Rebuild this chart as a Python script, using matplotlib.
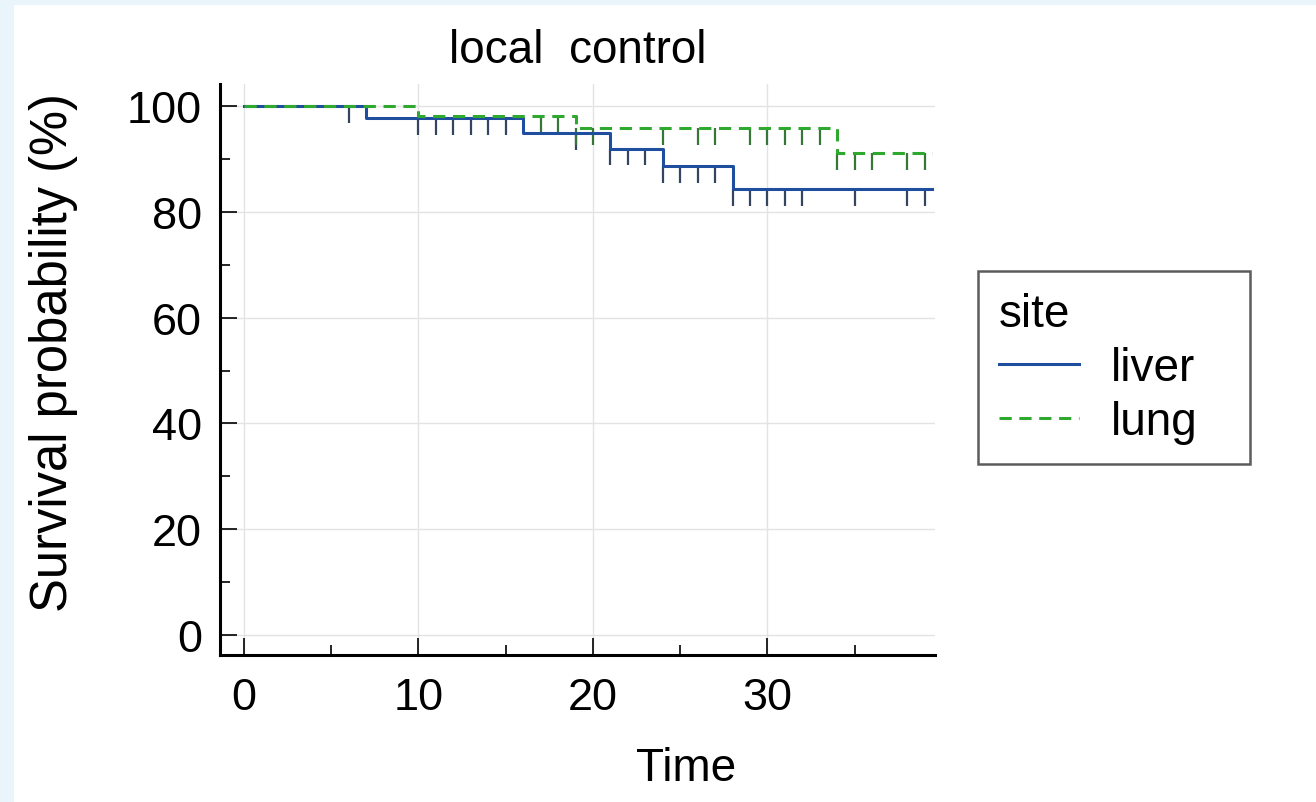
import numpy as np
import matplotlib
matplotlib.use("Agg")
import matplotlib.pyplot as plt
from matplotlib.patches import Rectangle
from matplotlib.ticker import MultipleLocator

# ---- data ----
liver_times = [0, 7, 16, 21, 24, 28]
liver_surv = [100, 97.7, 95.0, 92.0, 88.7, 84.3]
liver_censor = [6, 10, 11, 12, 13, 14, 15, 19, 21, 22, 23, 24, 25, 26, 27,
                28, 29, 30, 31, 32, 35, 38, 39]

lung_times = [0, 10, 19, 34]
lung_surv = [100, 98.2, 95.8, 91.2]
lung_censor = [17, 18, 19, 20, 24, 26, 27, 29, 30, 31, 32, 33, 34, 35, 36, 38, 39]

end_time = 39.4
x_ticks = [0, 10, 20, 30]
y_ticks = [0, 20, 40, 60, 80, 100]

plt.rcParams['font.family'] = ['Liberation Sans', 'DejaVu Sans']

fig = plt.figure(figsize=(13.16, 8.03), dpi=100)
fig.patch.set_facecolor('white')
# light blue frame at top and left
fig.patches.append(Rectangle((0, 1 - 6 / 803), 1, 6 / 803, transform=fig.transFigure,
                             facecolor='#eaf4fb', edgecolor='none', zorder=0))
fig.patches.append(Rectangle((0, 0), 14 / 1316, 1, transform=fig.transFigure,
                             facecolor='#eaf4fb', edgecolor='none', zorder=0))

ax = fig.add_axes([220 / 1316, 1 - 656 / 803, 715 / 1316, 571 / 803])

blue = '#1f4e9e'
green = '#2ea82e'


def step_level(times, surv, t):
    i = np.searchsorted(times, t, side='right') - 1
    return np.asarray(surv)[i]


def draw(times, surv, censor, color, tick_color, ls, label):
    xs = list(times) + [end_time]
    ys = list(surv) + [surv[-1]]
    lv = step_level(times, surv, censor)
    ax.vlines(censor, lv - 3.2, lv, colors=tick_color, linewidth=1.6, zorder=3)
    ax.step(xs, ys, where='post', color=color, linestyle=ls, linewidth=2.2,
            label=label, zorder=4)


draw(liver_times, liver_surv, liver_censor, blue, '#35445f', '-', 'liver')
draw(lung_times, lung_surv, lung_censor, green, '#387538', (0, (4, 2.5)), 'lung')

ax.set_xlim(-1.375, 39.6)
ax.set_ylim(-3.8, 104.2)
ax.set_xticks(x_ticks)
ax.set_yticks(y_ticks)
ax.xaxis.set_minor_locator(MultipleLocator(5))
ax.yaxis.set_minor_locator(MultipleLocator(10))
ax.grid(True, which='major', color='#e3e3e3', linewidth=1.0, zorder=0)
ax.set_axisbelow(True)

for s in ['top', 'right']:
    ax.spines[s].set_visible(False)
for s in ['left', 'bottom']:
    ax.spines[s].set_linewidth(2.2)
    ax.spines[s].set_color('black')

ax.tick_params(which='major', direction='in', length=12, width=1.2, labelsize=32.5, pad=13)
ax.tick_params(which='minor', direction='in', length=7, width=1.2)
ax.tick_params(axis='x', which='major', pad=16)

ax.set_xlabel('Time', fontsize=33)
ax.set_ylabel('Survival probability (%)', fontsize=36.5)
ax.xaxis.set_label_coords(0.652, -0.16)
ax.yaxis.set_label_coords(-0.198, 0.532)
ax.set_title('local  control', fontsize=33, pad=16)

leg = ax.legend(title='site', loc='upper left',
                bbox_to_anchor=(978 / 1316, 1 - 465 / 803, 272 / 1316, 193 / 803),
                bbox_transform=fig.transFigure, mode='expand', fontsize=33, title_fontsize=33,
                frameon=True, fancybox=False, edgecolor='#333333', handlelength=1.75,
                handletextpad=0.7, labelspacing=0.22, borderpad=0.45, alignment='left',
                borderaxespad=0)
leg.get_frame().set_linewidth(1.8)

fig.savefig('out.png', dpi=100)
